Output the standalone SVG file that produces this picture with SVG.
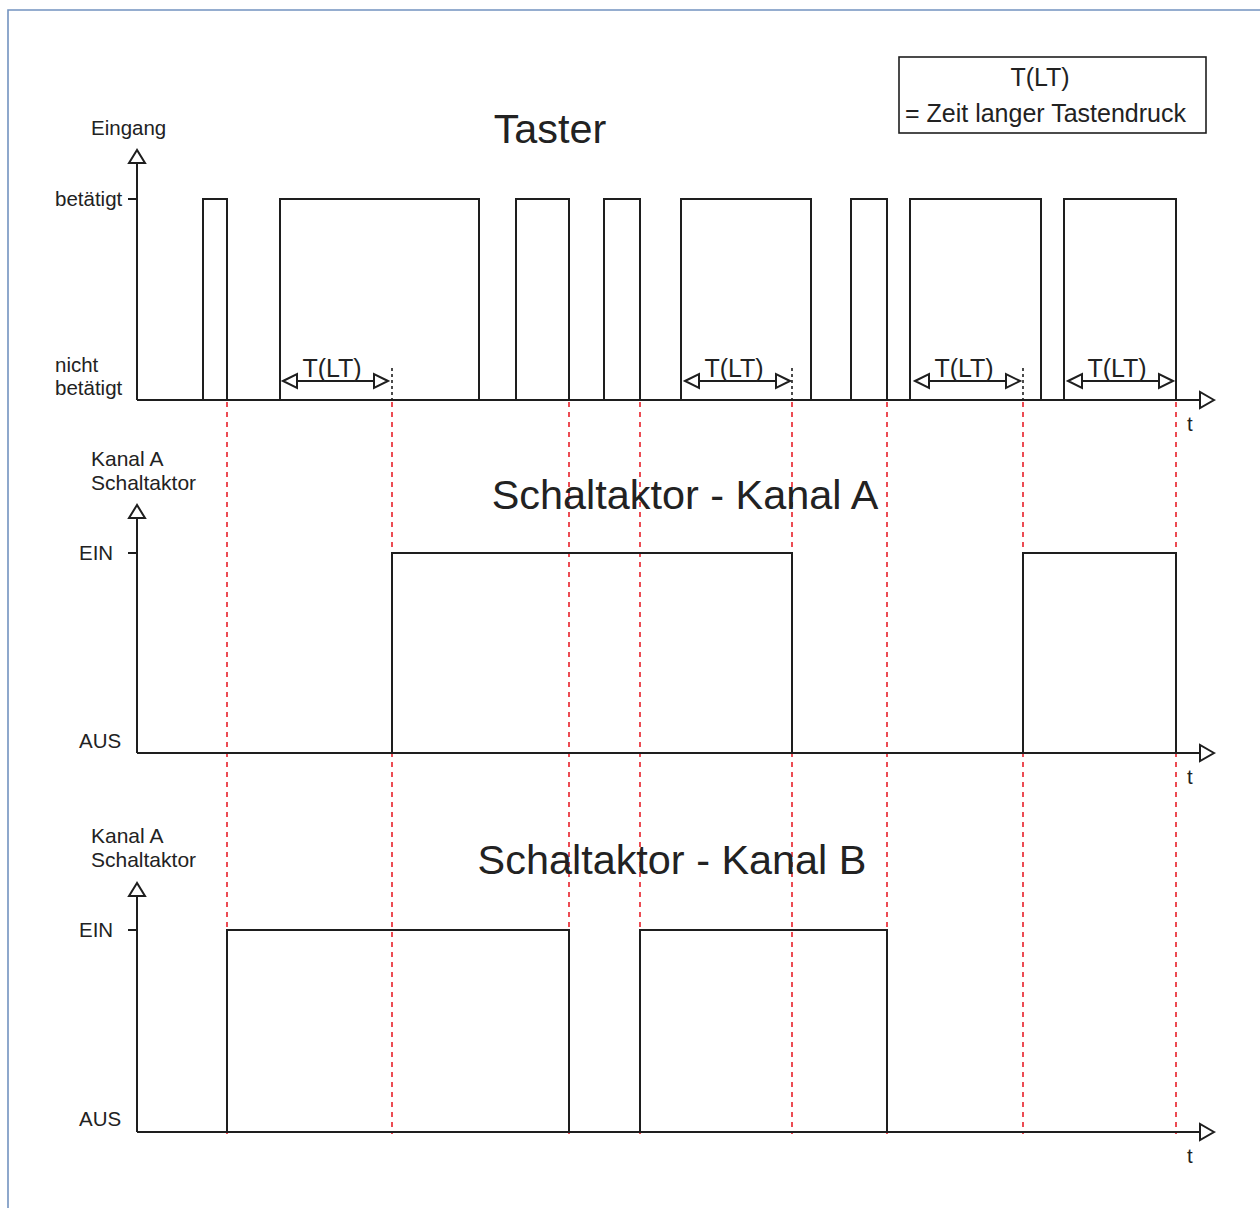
<svg xmlns="http://www.w3.org/2000/svg" width="1260" height="1208" viewBox="0 0 1260 1208">
<style>
text{font-family:"Liberation Sans",Arial,sans-serif;fill:#222}
.lbl{font-size:20.5px}
.lbl2{font-size:21px}
.big{font-size:41.4px}
.mid{font-size:25px}
.ln{stroke:#1e1e1e;stroke-width:2;fill:none}
.tri{stroke:#1e1e1e;stroke-width:2;fill:#fff;stroke-linejoin:miter}
.red{stroke:#e8202a;stroke-width:1.6;stroke-dasharray:5,5;fill:none}
.blk{stroke:#1e1e1e;stroke-width:1.6;stroke-dasharray:3,3;fill:none}
</style>
<rect width="1260" height="1208" fill="#fff"/>
<g id="frame">
<path d="M8 1208 V10 H1260" fill="none" stroke="#7393c0" stroke-width="1.6"/>
</g>
<g id="legend">
<rect x="899" y="57" width="307" height="76" fill="#fff" stroke="#1e1e1e" stroke-width="1.6"/>
<text class="mid" x="1040" y="86" text-anchor="middle">T(LT)</text>
<text class="mid" x="905" y="122">= Zeit langer Tastendruck</text>
</g>
<g id="redlines">
<path class="red" d="M227 402 V1134 M392 402 V1134 M569 402 V1134 M640 402 V1134 M792 402 V1134 M887 402 V1134 M1023 402 V1134 M1176 402 V1134"/>
</g>
<g id="taster">
<text class="big" x="550" y="143" text-anchor="middle">Taster</text>
<text class="lbl" x="91" y="135">Eingang</text>
<text class="lbl" x="55" y="206">betätigt</text>
<text class="lbl" x="55" y="372">nicht</text>
<text class="lbl" x="55" y="395">betätigt</text>
<text class="lbl" x="1187" y="431">t</text>
<path class="ln" d="M137 400 V163 M128 199 H137 M137 400 H1200"/>
<polygon class="tri" points="137,150 129,163 145,163"/>
<polygon class="tri" points="1214,400 1200,392 1200,408"/>
<path class="ln" d="M137 400 H203 V199 H227 V400 H280 V199 H479 V400 H516 V199 H569 V400 H604 V199 H640 V400 H681 V199 H811 V400 H851 V199 H887 V400 H910 V199 H1041 V400 H1064 V199 H1176 V400"/>
</g>
<g id="tlt">
<path class="ln" d="M297 381 H374 M699 381 H776 M929 381 H1006 M1082 381 H1159"/>
<polygon class="tri" points="283,381 297,374 297,388"/>
<polygon class="tri" points="388,381 374,374 374,388"/>
<polygon class="tri" points="685,381 699,374 699,388"/>
<polygon class="tri" points="790,381 776,374 776,388"/>
<polygon class="tri" points="915,381 929,374 929,388"/>
<polygon class="tri" points="1020,381 1006,374 1006,388"/>
<polygon class="tri" points="1068,381 1082,374 1082,388"/>
<polygon class="tri" points="1173,381 1159,374 1159,388"/>
<path class="blk" d="M392 368 V400 M792 368 V400 M1023 368 V400"/>
<text class="mid" x="332" y="377" text-anchor="middle">T(LT)</text>
<text class="mid" x="734" y="377" text-anchor="middle">T(LT)</text>
<text class="mid" x="964" y="377" text-anchor="middle">T(LT)</text>
<text class="mid" x="1117" y="377" text-anchor="middle">T(LT)</text>
</g>
<g id="kanalA">
<text class="big" x="685" y="509" text-anchor="middle">Schaltaktor - Kanal A</text>
<text class="lbl2" x="91" y="466">Kanal A</text>
<text class="lbl2" x="91" y="490">Schaltaktor</text>
<text class="lbl" x="79" y="560">EIN</text>
<text class="lbl" x="79" y="748">AUS</text>
<text class="lbl" x="1187" y="784">t</text>
<path class="ln" d="M137 753 V518 M128 553 H137 M137 753 H1200"/>
<polygon class="tri" points="137,505 129,518 145,518"/>
<polygon class="tri" points="1214,753 1200,745 1200,761"/>
<path class="ln" d="M137 753 H392 V553 H792 V753 H1023 V553 H1176 V753"/>
</g>
<g id="kanalB">
<text class="big" x="672" y="874" text-anchor="middle">Schaltaktor - Kanal B</text>
<text class="lbl2" x="91" y="843">Kanal A</text>
<text class="lbl2" x="91" y="867">Schaltaktor</text>
<text class="lbl" x="79" y="937">EIN</text>
<text class="lbl" x="79" y="1126">AUS</text>
<text class="lbl" x="1187" y="1163">t</text>
<path class="ln" d="M137 1132 V896 M128 930 H137 M137 1132 H1200"/>
<polygon class="tri" points="137,883 129,896 145,896"/>
<polygon class="tri" points="1214,1132 1200,1124 1200,1140"/>
<path class="ln" d="M137 1132 H227 V930 H569 V1132 H640 V930 H887 V1132"/>
</g>
</svg>
